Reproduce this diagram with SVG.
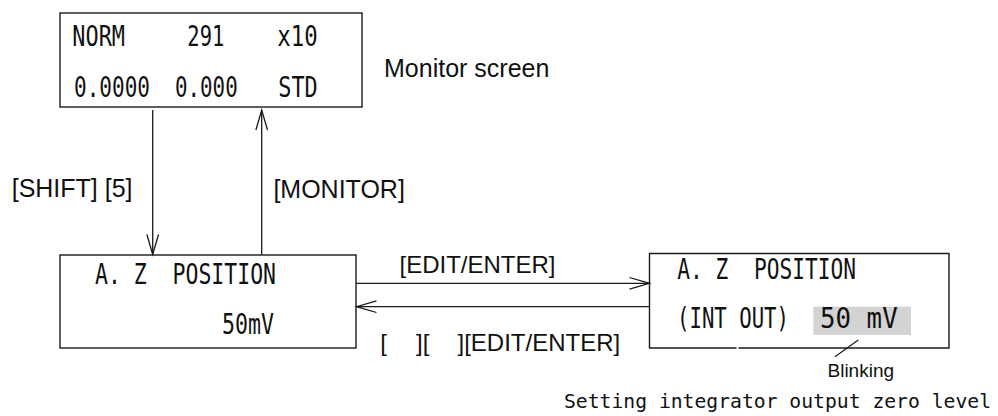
<svg xmlns="http://www.w3.org/2000/svg" width="998" height="416" viewBox="0 0 998 416">
<style>
.box{fill:#fff;stroke:#1a1a1a;stroke-width:1.4}
.lcd{font-family:"DejaVu Sans Mono","Liberation Mono",monospace;font-size:27.5px;fill:#111}
.lbl{font-family:"Liberation Sans",Arial,sans-serif;font-size:25px;fill:#111}
.con{fill:none;stroke:#1a1a1a;stroke-width:1.3}
</style>
<defs>
<marker id="open" markerUnits="userSpaceOnUse" markerWidth="24" markerHeight="16" viewBox="-21 -8 24 16" refX="0" refY="0" orient="auto">
<path d="M-20,-5.8 L0,0 L-20,5.8" fill="none" stroke="#1a1a1a" stroke-width="1.3"/>
</marker>
</defs>
<rect width="998" height="416" fill="#fff"/>

<g id="monitor">
<rect class="box" x="60" y="13" width="302" height="94"/>
<text class="lcd" x="72.3" y="45.7" textLength="52.7" lengthAdjust="spacingAndGlyphs">NORM</text>
<text class="lcd" x="187.3" y="45.7" textLength="37" lengthAdjust="spacingAndGlyphs">291</text>
<text class="lcd" x="277.3" y="45.7" textLength="40.4" lengthAdjust="spacingAndGlyphs">x10</text>
<text class="lcd" x="74" y="96.7" textLength="76" lengthAdjust="spacingAndGlyphs">0.0000</text>
<text class="lcd" x="175" y="96.7" textLength="62.7" lengthAdjust="spacingAndGlyphs">0.000</text>
<text class="lcd" x="278.3" y="96.7" textLength="39.4" lengthAdjust="spacingAndGlyphs">STD</text>
</g>
<text id="monitor-caption" class="lbl" x="384" y="76.7">Monitor screen</text>

<g id="azpos">
<rect class="box" x="60" y="255" width="296" height="93"/>
<text class="lcd" x="95" y="284.3" textLength="181" lengthAdjust="spacingAndGlyphs" xml:space="preserve">A. Z  POSITION</text>
<text class="lcd" x="222" y="334" textLength="52" lengthAdjust="spacingAndGlyphs">50mV</text>
</g>

<g id="azset">
<path class="box" d="M736.5,348 H649.5 V253.5 H949 V348 H738.5"/>
<rect x="813.3" y="306.7" width="97.7" height="28.3" fill="#d3d3d3"/>
<text class="lcd" x="677.3" y="279.3" textLength="178.7" lengthAdjust="spacingAndGlyphs" xml:space="preserve">A. Z  POSITION</text>
<text class="lcd" x="677" y="328.3" textLength="112" lengthAdjust="spacingAndGlyphs">(INT OUT)</text>
<text class="lcd" x="820" y="328.3" textLength="77.7" lengthAdjust="spacingAndGlyphs" xml:space="preserve">50 mV</text>
<line x1="858.3" y1="340" x2="835" y2="356.7" stroke="#1a1a1a" stroke-width="1.2"/>
<text class="lbl" x="827.5" y="376.7" style="font-size:19px">Blinking</text>
</g>

<g id="connectors">
<line class="con" x1="152.7" y1="110" x2="152.7" y2="254.5" marker-end="url(#open)"/>
<line class="con" x1="261.7" y1="255" x2="261.7" y2="110" marker-end="url(#open)"/>
<line class="con" x1="356" y1="283.3" x2="649.5" y2="283.3" marker-end="url(#open)"/>
<line class="con" x1="649.5" y1="306.7" x2="356.5" y2="306.7" marker-end="url(#open)"/>
<text class="lbl" x="11.7" y="197.3">[SHIFT] [5]</text>
<text class="lbl" x="273.4" y="198">[MONITOR]</text>
<text class="lbl" x="399.5" y="273.3" style="font-size:24px">[EDIT/ENTER]</text>
<text class="lbl" y="351.3" style="font-size:24px"><tspan x="380.2">[</tspan><tspan x="416">][</tspan><tspan x="457.5">][EDIT/ENTER]</tspan></text>
</g>

<text id="caption" x="564" y="408" textLength="427" lengthAdjust="spacingAndGlyphs" style="font-family:'DejaVu Sans Mono','Liberation Mono',monospace;font-size:20px;fill:#111">Setting integrator output zero level</text>
</svg>
